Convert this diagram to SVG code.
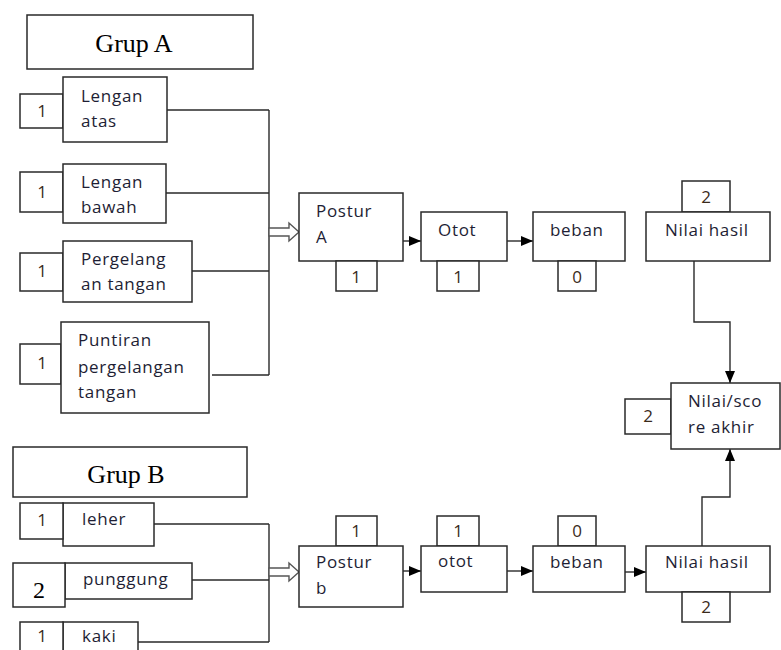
<svg xmlns="http://www.w3.org/2000/svg" width="781" height="650" viewBox="0 0 781 650">
<style>
.box{fill:#fff;stroke:#2a2a2a;stroke-width:1.5}
.t{font-family:"Open Sans","Liberation Sans",sans-serif;font-size:17px;font-weight:500;letter-spacing:0.7px;fill:#1e1e34}
.n{font-family:"Open Sans","Liberation Sans",sans-serif;font-size:17px;font-weight:500;fill:#3a2a1a;text-anchor:middle}
.g{font-family:"Liberation Serif","Times New Roman",serif;font-size:26px;fill:#000;text-anchor:middle}
.c{fill:none;stroke:#2a2a2a;stroke-width:1.4}
.h{fill:#fff;stroke:#555;stroke-width:1.4}
</style>
<defs>
<marker id="ah" markerWidth="12" markerHeight="10" refX="12" refY="5" orient="auto" markerUnits="userSpaceOnUse">
<path d="M0,0 L12,5 L0,10 Z" fill="#000"/>
</marker>
</defs>

<g id="connectors">
<path class="c" d="M167,110 H269 M166,193 H269 M192,271 H269 M212,375 H269 M269,110 V375"/>
<path class="h" d="M269,228 H289 V223 L299,232 L289,241 V236 H269 Z"/>
<path class="c" d="M403,241 H421" marker-end="url(#ah)"/>
<path class="c" d="M507,241 H533" marker-end="url(#ah)"/>
<path class="c" d="M694,261 V322 H730 V383" marker-end="url(#ah)"/>
<path class="c" d="M154,524 H269 M192,580 H269 M138,642 H269 M269,524 V642"/>
<path class="h" d="M269,568 H289 V563 L299,572 L289,581 V576 H269 Z"/>
<path class="c" d="M403,571 H421" marker-end="url(#ah)"/>
<path class="c" d="M507,571 H533" marker-end="url(#ah)"/>
<path class="c" d="M625,572 H646" marker-end="url(#ah)"/>
<path class="c" d="M702,546 V497 H730 V449" marker-end="url(#ah)"/>
</g>

<g id="grup-a">
<rect class="box" x="27" y="15" width="226" height="54"/>
<text class="g" x="134" y="52">Grup A</text>
</g>

<g id="lengan-atas">
<rect class="box" x="20" y="94" width="43" height="34"/>
<text class="n" x="42" y="117">1</text>
<rect class="box" x="63" y="77" width="104" height="65"/>
<text class="t" x="81" y="102">Lengan</text>
<text class="t" x="81" y="127">atas</text>
</g>

<g id="lengan-bawah">
<rect class="box" x="20" y="172" width="43" height="40"/>
<text class="n" x="42" y="198">1</text>
<rect class="box" x="63" y="164" width="103" height="59"/>
<text class="t" x="81" y="188">Lengan</text>
<text class="t" x="81" y="213">bawah</text>
</g>

<g id="pergelangan-tangan">
<rect class="box" x="20" y="253" width="43" height="38"/>
<text class="n" x="42" y="277">1</text>
<rect class="box" x="63" y="241" width="129" height="61"/>
<text class="t" x="81" y="265">Pergelang</text>
<text class="t" x="81" y="290">an tangan</text>
</g>

<g id="puntiran">
<rect class="box" x="20" y="344" width="41" height="40"/>
<text class="n" x="42" y="369">1</text>
<rect class="box" x="61" y="322" width="148" height="91"/>
<text class="t" x="78" y="346">Puntiran</text>
<text class="t" x="78" y="373">pergelangan</text>
<text class="t" x="78" y="398">tangan</text>
</g>

<g id="postur-a">
<rect class="box" x="299" y="193" width="104" height="68"/>
<text class="t" x="316" y="217">Postur</text>
<text class="t" x="316" y="243">A</text>
<rect class="box" x="336" y="261" width="41" height="30"/>
<text class="n" x="356" y="283">1</text>
</g>

<g id="otot-a">
<rect class="box" x="421" y="212" width="86" height="49"/>
<text class="t" x="438" y="236">Otot</text>
<rect class="box" x="437" y="261" width="42" height="30"/>
<text class="n" x="458" y="283">1</text>
</g>

<g id="beban-a">
<rect class="box" x="533" y="212" width="92" height="49"/>
<text class="t" x="550" y="236">beban</text>
<rect class="box" x="558" y="261" width="38" height="30"/>
<text class="n" x="577" y="283">0</text>
</g>

<g id="nilai-hasil-a">
<rect class="box" x="682" y="181" width="48" height="31"/>
<text class="n" x="706" y="203">2</text>
<rect class="box" x="646" y="212" width="124" height="49"/>
<text class="t" x="665" y="236">Nilai hasil</text>
</g>

<g id="nilai-akhir">
<rect class="box" x="625" y="399" width="46" height="35"/>
<text class="n" x="648" y="422">2</text>
<rect class="box" x="671" y="383" width="109" height="66"/>
<text class="t" x="688" y="407">Nilai/sco</text>
<text class="t" x="688" y="433">re akhir</text>
</g>

<g id="grup-b">
<rect class="box" x="13" y="447" width="234" height="50"/>
<text class="g" x="126" y="483">Grup B</text>
</g>

<g id="leher">
<rect class="box" x="63" y="503" width="91" height="43"/>
<text class="t" x="82" y="525">leher</text>
<rect class="box" x="20" y="503" width="43" height="36"/>
<text class="n" x="42" y="526">1</text>
</g>

<g id="punggung">
<rect class="box" x="65" y="563" width="127" height="36"/>
<text class="t" x="83" y="585">punggung</text>
<rect class="box" x="13" y="563" width="52" height="44"/>
<text class="g" x="39" y="598" style="font-size:24px">2</text>
</g>

<g id="kaki">
<rect class="box" x="63" y="622" width="75" height="40"/>
<text class="t" x="82" y="642">kaki</text>
<rect class="box" x="20" y="622" width="43" height="40"/>
<text class="n" x="42" y="642">1</text>
</g>

<g id="postur-b">
<rect class="box" x="336" y="516" width="41" height="30"/>
<text class="n" x="356" y="537">1</text>
<rect class="box" x="299" y="546" width="104" height="61"/>
<text class="t" x="316" y="568">Postur</text>
<text class="t" x="316" y="594">b</text>
</g>

<g id="otot-b">
<rect class="box" x="437" y="516" width="42" height="30"/>
<text class="n" x="458" y="537">1</text>
<rect class="box" x="421" y="546" width="86" height="46"/>
<text class="t" x="438" y="567">otot</text>
</g>

<g id="beban-b">
<rect class="box" x="558" y="516" width="38" height="30"/>
<text class="n" x="577" y="537">0</text>
<rect class="box" x="533" y="546" width="92" height="46"/>
<text class="t" x="550" y="568">beban</text>
</g>

<g id="nilai-hasil-b">
<rect class="box" x="646" y="546" width="124" height="46"/>
<text class="t" x="665" y="568">Nilai hasil</text>
<rect class="box" x="682" y="592" width="48" height="30"/>
<text class="n" x="706" y="613">2</text>
</g>
</svg>
